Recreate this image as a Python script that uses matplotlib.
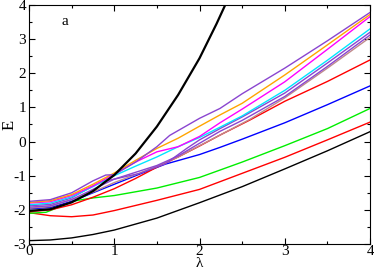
import numpy as np
import matplotlib
matplotlib.use("Agg")
import matplotlib.pyplot as plt
from matplotlib.ticker import MultipleLocator

# Energy levels E(lambda)
lam_low = [0, 0.25, 0.5, 0.75, 1, 1.5, 2, 2.5, 3, 3.5, 4]
black_low = [-2.9, -2.88, -2.82, -2.72, -2.59, -2.24, -1.79, -1.32, -0.8, -0.27, 0.29]

lam_red1 = [0, 0.25, 0.5, 0.75, 1, 1.25, 1.5, 2, 2.5, 3, 3.5, 4]
red_low = [-2.08, -2.17, -2.2, -2.15, -2.02, -1.87, -1.72, -1.4, -0.93, -0.46, 0.05, 0.57]

lam_green = [0, 0.2, 0.35, 0.5, 0.75, 1, 1.5, 2, 2.5, 3, 3.5, 4]
green = [-2.1, -2.07, -1.92, -1.75, -1.65, -1.58, -1.36, -1.05, -0.6, -0.12, 0.38, 0.97]

lam_blue = [0, 0.25, 0.5, 0.75, 1, 1.3, 1.6, 2, 2.24, 2.5, 3, 3.5, 4]
blue = [-1.97, -1.93, -1.75, -1.5, -1.25, -0.95, -0.66, -0.38, -0.17, 0.07, 0.55, 1.08, 1.63]

lam_red2 = [0, 0.25, 0.5, 0.75, 1, 1.25, 1.5, 1.75, 2, 2.24, 2.59, 3, 3.5, 4]
red_up = [-2.05, -2.0, -1.85, -1.63, -1.38, -1.08, -0.75, -0.45, -0.13, 0.19, 0.63, 1.18, 1.76, 2.39]

lam_brown = [0, 0.25, 0.5, 0.75, 1, 1.25, 1.5, 1.75, 2, 2.24, 2.59, 3, 3.5, 4]
brown = [-1.95, -1.9, -1.7, -1.48, -1.2, -0.97, -0.72, -0.45, -0.12, 0.19, 0.65, 1.28, 2.15, 3.05]

lam_mid = [0, 0.25, 0.5, 0.75, 1, 1.25, 1.5, 1.75, 2, 2.24, 2.5, 3, 3.5, 4]
purple3 = [-1.92, -1.88, -1.7, -1.4, -1.1, -0.9, -0.7, -0.42, -0.05, 0.3, 0.62, 1.32, 2.2, 3.12]
cyan = [-1.85, -1.8, -1.62, -1.32, -1.0, -0.72, -0.45, -0.15, 0.12, 0.42, 0.75, 1.5, 2.38, 3.3]
magenta = [-1.8, -1.76, -1.58, -1.3, -0.95, -0.6, -0.3, -0.15, 0.15, 0.55, 0.95, 1.75, 2.7, 3.66]
orange = [-1.78, -1.73, -1.55, -1.25, -0.92, -0.55, -0.2, 0.1, 0.45, 0.78, 1.12, 1.95, 2.83, 3.72]

lam_p2 = [0, 0.25, 0.5, 0.75, 0.85, 1.0, 1.3, 1.6, 1.85, 2.0, 2.24, 2.5, 3, 3.5, 4]
purple2 = [-1.88, -1.84, -1.65, -1.3, -1.18, -1.1, -0.93, -0.65, -0.2, 0.05, 0.38, 0.72, 1.42, 2.3, 3.2]

lam_p1 = [0, 0.25, 0.5, 0.75, 0.9, 1.0, 1.25, 1.5, 1.65, 2, 2.24, 2.5, 3, 3.5, 4]
purple1 = [-1.75, -1.7, -1.5, -1.15, -0.98, -0.97, -0.6, -0.15, 0.18, 0.68, 0.97, 1.4, 2.15, 2.95, 3.78]

lam_steep = [0, 0.25, 0.5, 0.75, 1, 1.25, 1.5, 1.75, 2, 2.2, 2.32]
black_steep = [-2.03, -1.98, -1.78, -1.45, -0.98, -0.35, 0.44, 1.37, 2.44, 3.45, 4.1]

plt.rcParams['font.family'] = ['Liberation Serif', 'DejaVu Serif']
plt.rcParams['axes.unicode_minus'] = False

fig = plt.figure(figsize=(3.74, 2.73), dpi=100)
ax = fig.add_axes([0.0775, 0.106, 0.912, 0.876])

lw = 1.0
purp = '#8a45d0'
ax.plot(lam_low, black_low, color='black', lw=lw)
ax.plot(lam_red1, red_low, color='red', lw=lw)
ax.plot(lam_green, green, color='#00ee00', lw=lw)
ax.plot(lam_blue, blue, color='blue', lw=lw)
ax.plot(lam_red2, red_up, color='red', lw=lw)
ax.plot(lam_brown, brown, color='#c08a8a', lw=lw)
ax.plot(lam_mid, purple3, color=purp, lw=lw)
ax.plot(lam_p2, purple2, color=purp, lw=lw)
ax.plot(lam_mid, cyan, color='#00e5ff', lw=lw)
ax.plot(lam_mid, magenta, color='magenta', lw=lw)
ax.plot(lam_mid, orange, color='orange', lw=lw)
ax.plot(lam_p1, purple1, color=purp, lw=lw)
ax.plot(lam_steep, black_steep, color='black', lw=1.6)

ax.set_xlim(0, 4)
ax.set_ylim(-3, 4)
ax.set_xticks([0, 1, 2, 3, 4])
ax.set_yticks([-3, -2, -1, 0, 1, 2, 3, 4])
ax.xaxis.set_minor_locator(MultipleLocator(0.5))
ax.yaxis.set_minor_locator(MultipleLocator(0.5))
ax.tick_params(which='both', direction='in', top=True, right=True, labelsize=11, width=0.8)
ax.tick_params(axis='x', pad=1)
ax.tick_params(axis='y', pad=2)
ax.tick_params(which='major', length=4)
ax.tick_params(which='minor', length=2)
ax.set_xlabel('λ', fontsize=11)
ax.xaxis.set_label_coords(0.5, -0.055)
ax.set_ylabel('E', fontsize=12)
ax.yaxis.set_label_coords(-0.035, 0.5)
ax.text(0.095, 0.93, 'a', transform=ax.transAxes, fontsize=11, va='center')
for s in ax.spines.values():
    s.set_linewidth(0.8)

fig.savefig('out.png', dpi=100)
